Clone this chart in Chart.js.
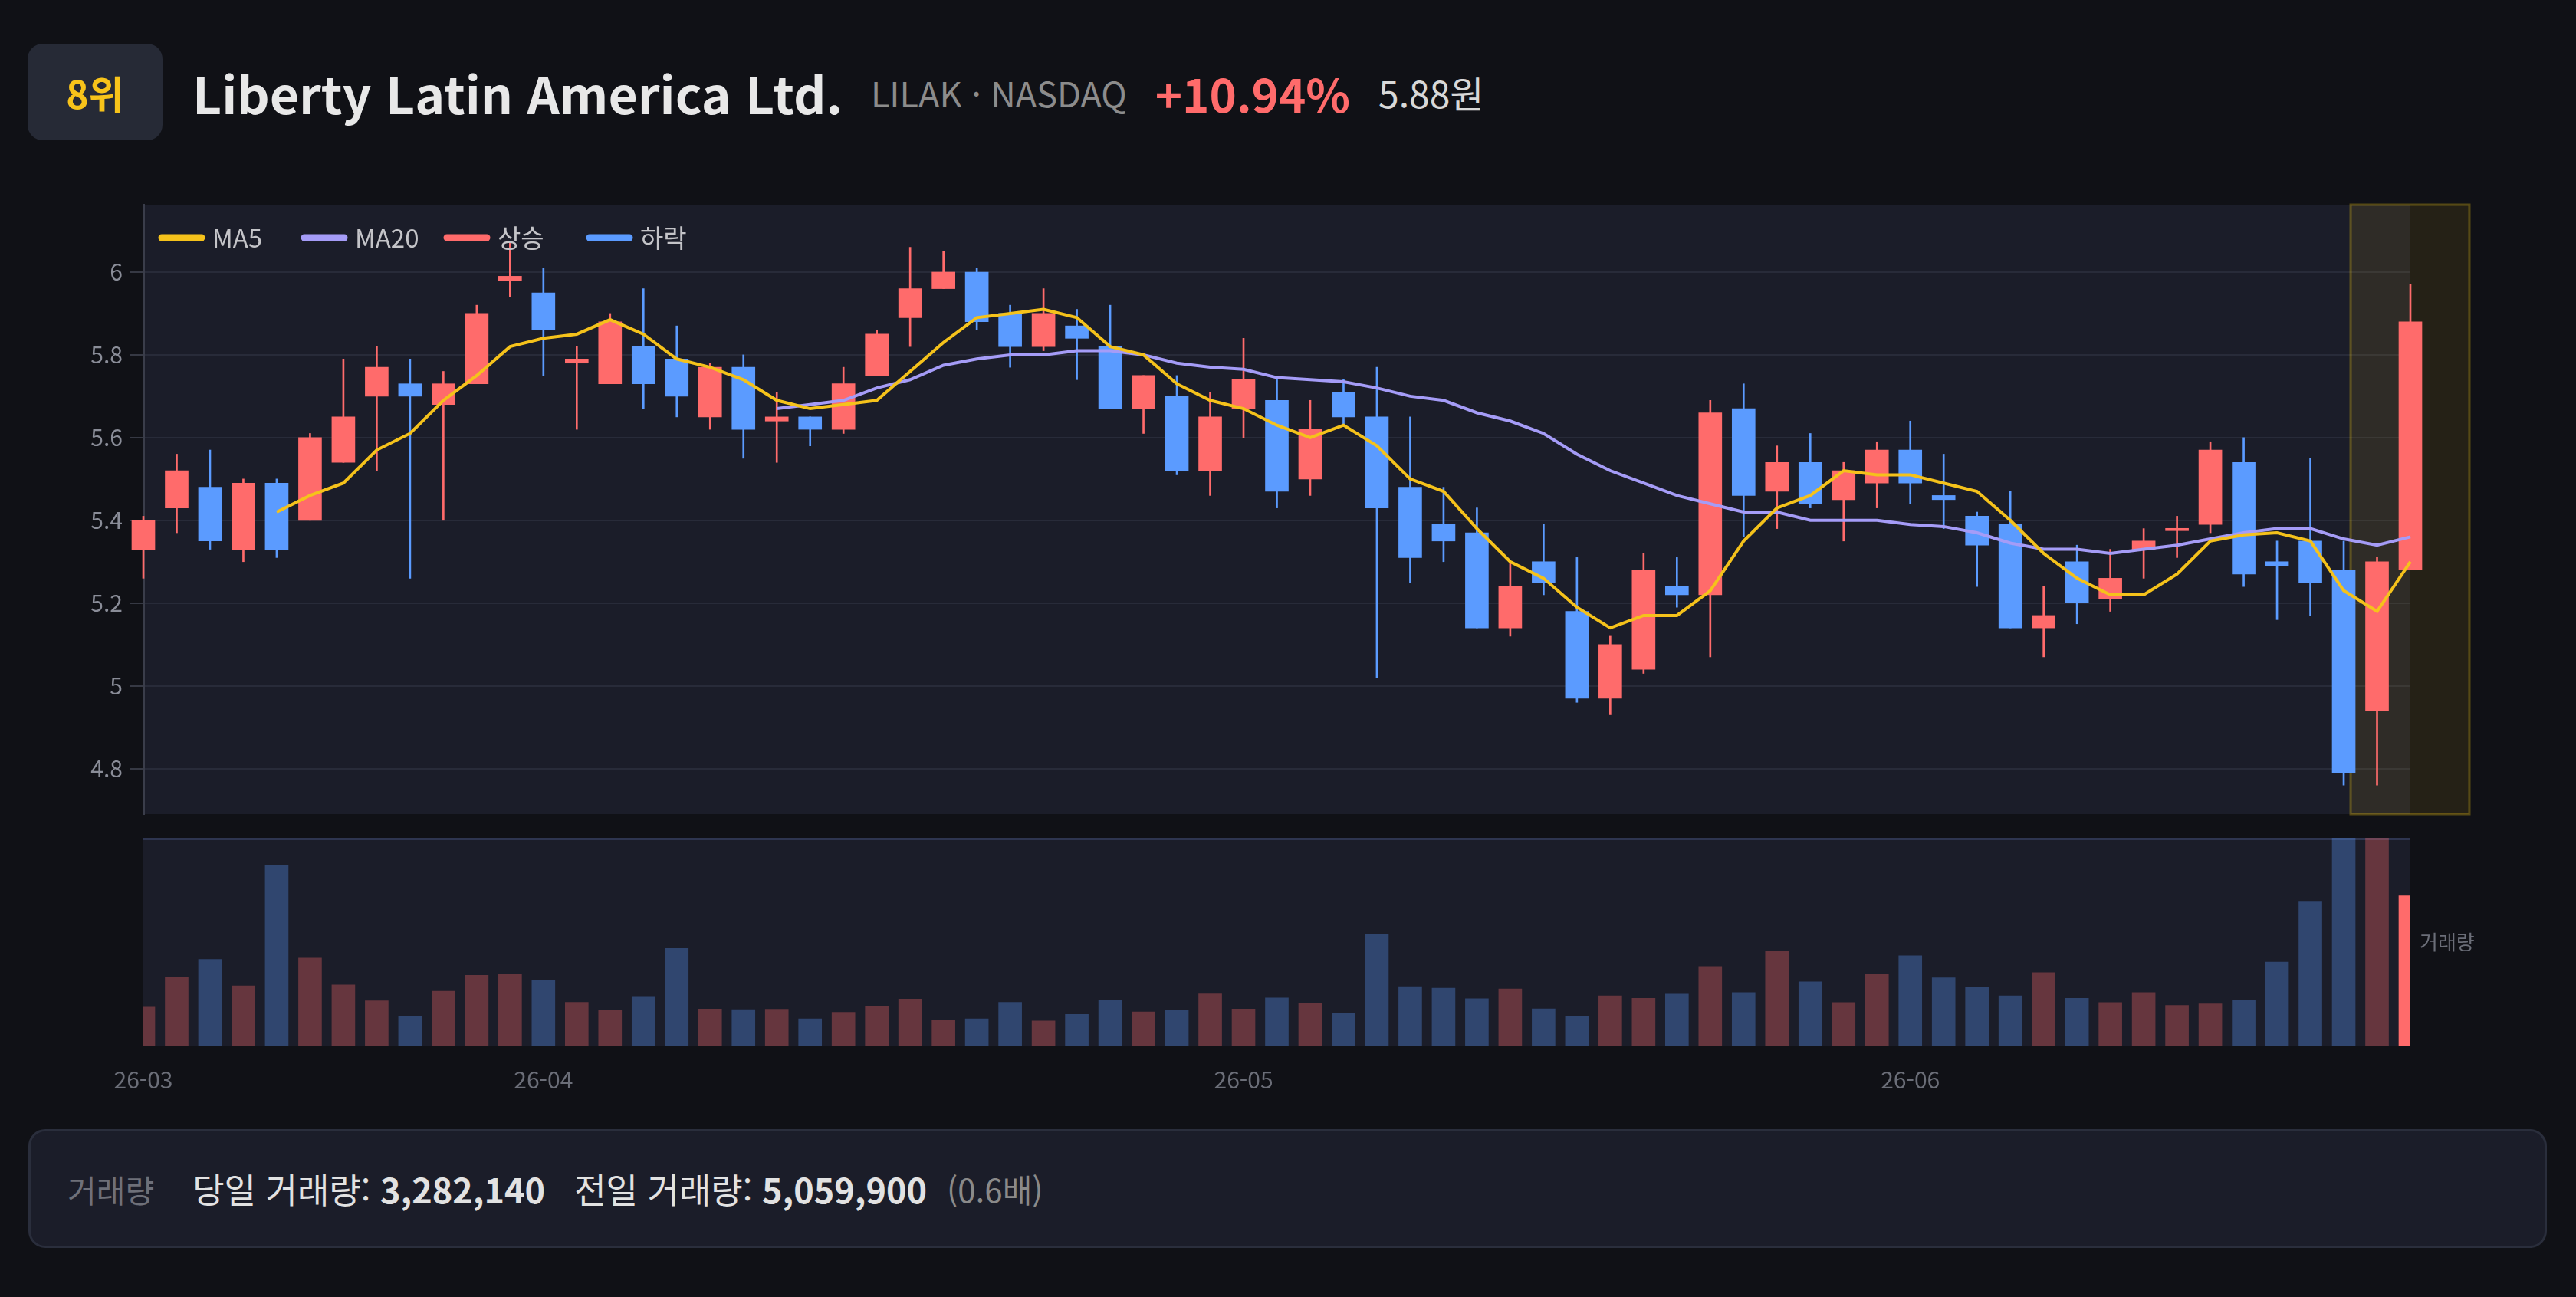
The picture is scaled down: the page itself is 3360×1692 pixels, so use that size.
<!DOCTYPE html>
<html lang="ko">
<head>
<meta charset="utf-8">
<title>Liberty Latin America Ltd.</title>
<script src="https://cdn.jsdelivr.net/npm/chart.js@4.4.1/dist/chart.umd.min.js"></script>
<style>
  html, body { margin: 0; padding: 0; background: #101116; }
  body { width: 3360px; height: 1692px; position: relative; overflow: hidden;
         font-family: "Noto Sans CJK KR", "Noto Sans", sans-serif; }
  .badge { position: absolute; left: 36px; top: 57px; width: 176px; height: 126px; border-radius: 20px;
           background: #262a36; color: #f7c31a; font-weight: 700; font-size: 50px;
           display: flex; align-items: center; justify-content: center; }
  .head { position: absolute; left: 251px; top: 70px; height: 100px; display: flex; align-items: center;
          gap: 37px; white-space: nowrap; }
  .title { color: #e8e8e8; font-weight: 700; font-size: 66px; }
  .ticker { color: #8c8c8c; font-size: 45px; }
  .chg { color: #ff6b6b; font-weight: 700; font-size: 60px; }
  .price { color: #d8d8d8; font-size: 48px; }
  #priceWrap { position: absolute; left: 0; top: 237px; width: 3360px; height: 853px; }
  #volWrap { position: absolute; left: 0; top: 1070px; width: 3360px; height: 370px; }
  .foot { position: absolute; left: 37px; top: 1473px; width: 3285px; height: 155px; box-sizing: border-box;
          border: 3px solid #2a2e3c; border-radius: 22px; background: #1b1d29;
          display: flex; align-items: center; padding-left: 48px; white-space: nowrap; font-size: 45px; }
  .foot .lab { color: #6e7079; font-size: 41px; margin-right: 50px; }
  .foot .item { color: #e2e2e2; margin-right: 38px; }
  .foot .item b { font-weight: 700; }
  .foot .ratio { color: #8a8a8a; font-size: 42px; margin-left: -12px; }
</style>
</head>
<body>
<div class="badge">8위</div>
<div class="head">
  <span class="title">Liberty Latin America Ltd.</span>
  <span class="ticker">LILAK · NASDAQ</span>
  <span class="chg" id="chg"></span>
  <span class="price" id="price"></span>
</div>
<div id="priceWrap"><canvas id="priceChart"></canvas></div>
<div id="volWrap"><canvas id="volChart"></canvas></div>
<div class="foot">
  <span class="lab">거래량</span>
  <span class="item">당일 거래량: <b id="volToday"></b></span>
  <span class="item">전일 거래량: <b id="volPrev"></b></span>
  <span class="ratio" id="volRatio"></span>
</div>
<script>
// trading days
const dates = [
  '2026-03-16','2026-03-17','2026-03-18','2026-03-19','2026-03-20','2026-03-23','2026-03-24','2026-03-25',
  '2026-03-26','2026-03-27','2026-03-30','2026-03-31',
  '2026-04-01','2026-04-02','2026-04-06','2026-04-07','2026-04-08','2026-04-09','2026-04-10','2026-04-13',
  '2026-04-14','2026-04-15','2026-04-16','2026-04-17','2026-04-20','2026-04-21','2026-04-22','2026-04-23',
  '2026-04-24','2026-04-27','2026-04-28','2026-04-29','2026-04-30',
  '2026-05-01','2026-05-04','2026-05-05','2026-05-06','2026-05-07','2026-05-08','2026-05-11','2026-05-12',
  '2026-05-13','2026-05-14','2026-05-15','2026-05-18','2026-05-19','2026-05-20','2026-05-21','2026-05-22',
  '2026-05-26','2026-05-27','2026-05-28','2026-05-29',
  '2026-06-01','2026-06-02','2026-06-03','2026-06-04','2026-06-05','2026-06-08','2026-06-09','2026-06-10',
  '2026-06-11','2026-06-12','2026-06-15','2026-06-16','2026-06-17','2026-06-18','2026-06-22','2026-06-23'
];

const opens = [
  5.33, 5.43, 5.48, 5.33, 5.49, 5.40, 5.54, 5.70, 5.73, 5.68,
  5.73, 5.98, 5.95, 5.78, 5.73, 5.82, 5.79, 5.65, 5.77, 5.64,
  5.65, 5.62, 5.75, 5.89, 5.96, 6.00, 5.90, 5.82, 5.87, 5.82,
  5.67, 5.70, 5.52, 5.67, 5.69, 5.50, 5.71, 5.65, 5.48, 5.39,
  5.37, 5.14, 5.30, 5.18, 4.97, 5.04, 5.24, 5.22, 5.67, 5.47,
  5.54, 5.45, 5.49, 5.57, 5.46, 5.41, 5.39, 5.14, 5.30, 5.21,
  5.33, 5.375, 5.39, 5.54, 5.30, 5.35, 5.28, 4.94, 5.28
];
const highs = [
  5.41, 5.56, 5.57, 5.50, 5.50, 5.61, 5.79, 5.82, 5.79, 5.76,
  5.92, 6.07, 6.01, 5.82, 5.90, 5.96, 5.87, 5.78, 5.80, 5.71,
  5.65, 5.77, 5.86, 6.06, 6.05, 6.01, 5.92, 5.96, 5.91, 5.92,
  5.75, 5.75, 5.71, 5.84, 5.74, 5.69, 5.74, 5.77, 5.65, 5.48,
  5.43, 5.30, 5.39, 5.31, 5.12, 5.32, 5.31, 5.69, 5.73, 5.58,
  5.61, 5.54, 5.59, 5.64, 5.56, 5.42, 5.47, 5.24, 5.34, 5.33,
  5.38, 5.41, 5.59, 5.60, 5.35, 5.55, 5.35, 5.31, 5.97
];
const lows = [
  5.26, 5.37, 5.33, 5.30, 5.31, 5.40, 5.54, 5.52, 5.26, 5.40,
  5.73, 5.94, 5.75, 5.62, 5.73, 5.67, 5.65, 5.62, 5.55, 5.54,
  5.58, 5.61, 5.75, 5.82, 5.96, 5.86, 5.77, 5.81, 5.74, 5.67,
  5.61, 5.51, 5.46, 5.60, 5.43, 5.46, 5.63, 5.02, 5.25, 5.30,
  5.14, 5.12, 5.22, 4.96, 4.93, 5.03, 5.19, 5.07, 5.36, 5.38,
  5.43, 5.35, 5.43, 5.44, 5.38, 5.24, 5.14, 5.07, 5.15, 5.18,
  5.26, 5.31, 5.37, 5.24, 5.16, 5.17, 4.76, 4.76, 5.28
];
const closes = [
  5.40, 5.52, 5.35, 5.49, 5.33, 5.60, 5.65, 5.77, 5.70, 5.73,
  5.90, 5.99, 5.86, 5.79, 5.88, 5.73, 5.70, 5.77, 5.62, 5.65,
  5.62, 5.73, 5.85, 5.96, 6.00, 5.88, 5.82, 5.90, 5.84, 5.67,
  5.75, 5.52, 5.65, 5.74, 5.47, 5.62, 5.65, 5.43, 5.31, 5.35,
  5.14, 5.24, 5.25, 4.97, 5.10, 5.28, 5.22, 5.66, 5.46, 5.54,
  5.44, 5.52, 5.57, 5.49, 5.45, 5.34, 5.14, 5.17, 5.20, 5.26,
  5.35, 5.38, 5.57, 5.27, 5.29, 5.25, 4.79, 5.30, 5.88
];

const ma5 = [
  null, null, null, null,
  5.42, 5.46, 5.49, 5.57, 5.61, 5.69, 5.75, 5.82, 5.84, 5.85,
  5.885, 5.85, 5.79, 5.77, 5.74, 5.69, 5.67, 5.68, 5.69, 5.76,
  5.83, 5.89, 5.90, 5.91, 5.89, 5.82, 5.80, 5.73, 5.69, 5.67,
  5.63, 5.60, 5.63, 5.58, 5.50, 5.47, 5.38, 5.30, 5.26, 5.19,
  5.14, 5.17, 5.17, 5.23, 5.35, 5.43, 5.46, 5.52, 5.51, 5.51,
  5.49, 5.47, 5.40, 5.32, 5.26, 5.22, 5.22, 5.27, 5.35, 5.365,
  5.37, 5.35, 5.23, 5.18, 5.30
];
const ma20 = [
  null, null, null, null, null, null, null, null, null, null,
  null, null, null, null, null, null, null, null, null,
  5.67, 5.68, 5.69, 5.72, 5.74, 5.775, 5.79, 5.80, 5.80, 5.81,
  5.81, 5.80, 5.78, 5.77, 5.765, 5.745, 5.74, 5.735, 5.72, 5.70,
  5.69, 5.66, 5.64, 5.61, 5.56, 5.52, 5.49, 5.46, 5.44, 5.42,
  5.42, 5.40, 5.40, 5.40, 5.39, 5.385, 5.37, 5.345, 5.33, 5.33,
  5.32, 5.33, 5.34, 5.355, 5.37, 5.38, 5.38, 5.355, 5.34, 5.36
];

const volumes = [
  853000, 1504000, 1897000, 1319000, 3945000, 1925000, 1341000, 993000, 657000, 1201000,
  1549000, 1577000, 1431000, 960000, 797000, 1089000, 2132000, 814000, 802000, 808000,
  600000, 741000, 881000, 1032000, 567000, 600000, 960000, 555000, 696000, 1010000,
  752000, 786000, 1145000, 814000, 1055000, 937000, 724000, 2446000, 1302000, 1268000,
  1038000, 1251000, 819000, 645000, 1100000, 1049000, 1139000, 1739000, 1173000, 2076000,
  1408000, 954000, 1565000, 1975000, 1493000, 1291000, 1100000, 1605000, 1049000, 954000,
  1173000, 892000, 926000, 1010000, 1835000, 3148000, 5600000, 5059900, 3282140
];

const FONT = '"Noto Sans CJK KR", "Noto Sans", sans-serif';
const UP = '#ff6b6b';
const DOWN = '#5b9bff';
const UP_VOL = 'rgba(255,107,107,0.33)';
const DOWN_VOL = 'rgba(91,155,255,0.33)';
const PANEL = '#1b1d29';
const last = dates.length - 1;

Chart.defaults.font.family = FONT;

const isUp = closes.map((c, i) => c >= opens[i]);
const candleColors = isUp.map(u => (u ? UP : DOWN));
const volColors = isUp.map((u, i) => (i === last ? UP : (u ? UP_VOL : DOWN_VOL)));

const legendItems = [
  { label: 'MA5', color: '#f5c21b' },
  { label: 'MA20', color: '#a59cf7' },
  { label: '상승', color: UP },
  { label: '하락', color: DOWN }
];

// header / footer text from the data
const change = (closes[last] / closes[last - 1] - 1) * 100;
document.getElementById('chg').textContent = (change >= 0 ? '+' : '') + change.toFixed(2) + '%';
document.getElementById('price').textContent = closes[last].toFixed(2) + '원';
document.getElementById('volToday').textContent = volumes[last].toLocaleString('en-US');
document.getElementById('volPrev').textContent = volumes[last - 1].toLocaleString('en-US');
document.getElementById('volRatio').textContent = '(' + (volumes[last] / volumes[last - 1]).toFixed(1) + '배)';

function monthLabel(i) {
  const m = dates[i].slice(0, 7);
  if (i === 0 || m !== dates[i - 1].slice(0, 7)) {
    return dates[i].slice(2, 7);
  }
  return '';
}

const panelBg = {
  id: 'panelBg',
  beforeDraw(chart) {
    const { ctx, chartArea: a } = chart;
    ctx.save();
    ctx.fillStyle = PANEL;
    ctx.fillRect(a.left, a.top, a.right - a.left, a.bottom - a.top);
    ctx.restore();
  }
};

const highlight = {
  id: 'highlight',
  beforeDatasetsDraw(chart) {
    const { ctx, chartArea: a } = chart;
    const x = chart.scales.x.getPixelForValue(last);
    ctx.save();
    ctx.fillStyle = 'rgba(250,204,21,0.09)';
    ctx.fillRect(x - 78, a.top, 155, a.bottom - a.top);
    ctx.strokeStyle = 'rgba(250,204,21,0.3)';
    ctx.lineWidth = 3;
    ctx.strokeRect(x - 78, a.top, 155, a.bottom - a.top);
    ctx.restore();
  }
};

const candleLegend = {
  id: 'candleLegend',
  afterDatasetsDraw(chart) {
    const { ctx, chartArea: a } = chart;
    ctx.save();
    ctx.font = '33px ' + FONT;
    ctx.textBaseline = 'middle';
    legendItems.forEach((item, k) => {
      const x = a.left + 19 + k * 186;
      const y = a.top + 43;
      ctx.strokeStyle = item.color;
      ctx.lineWidth = 9;
      ctx.lineCap = 'round';
      ctx.beginPath();
      ctx.moveTo(x + 5, y);
      ctx.lineTo(x + 57, y);
      ctx.stroke();
      ctx.fillStyle = '#c4c4c8';
      ctx.fillText(item.label, x + 71, y);
    });
    ctx.restore();
  }
};

const volDecor = {
  id: 'volDecor',
  beforeDatasetsDraw(chart) {
    const { ctx, chartArea: a } = chart;
    ctx.save();
    ctx.fillStyle = '#2e3550';
    ctx.fillRect(a.left, a.top, a.right - a.left, 3);
    ctx.restore();
  },
  afterDraw(chart) {
    const { ctx, chartArea: a } = chart;
    ctx.save();
    ctx.font = '26px ' + FONT;
    ctx.fillStyle = '#6b6e78';
    ctx.textBaseline = 'middle';
    ctx.fillText('거래량', a.right + 12, (a.top + a.bottom) / 2);
    ctx.restore();
  }
};

new Chart(document.getElementById('priceChart'), {
  type: 'bar',
  data: {
    labels: dates,
    datasets: [
      { type: 'line', label: 'MA5', data: ma5, borderColor: legendItems[0].color, borderWidth: 4,
        pointRadius: 0, tension: 0, order: 0 },
      { type: 'line', label: 'MA20', data: ma20, borderColor: legendItems[1].color, borderWidth: 4,
        pointRadius: 0, tension: 0, order: 1 },
      { label: 'body', data: dates.map((d, i) => [Math.min(opens[i], closes[i]), Math.max(opens[i], closes[i])]),
        backgroundColor: candleColors, barThickness: 30, minBarLength: 3, grouped: false, order: 2, clip: false },
      { label: 'wick', data: dates.map((d, i) => [lows[i], highs[i]]),
        backgroundColor: candleColors, barThickness: 2, grouped: false, order: 3, clip: false }
    ]
  },
  options: {
    responsive: true,
    maintainAspectRatio: false,
    animation: false,
    layout: { padding: { top: 30, bottom: 20, left: 0, right: 216 } },
    plugins: { legend: { display: false }, tooltip: { enabled: false } },
    scales: {
      x: { display: false, offset: false },
      y: {
        min: 4.69,
        max: 6.163,
        afterFit: s => { s.width = 187; },
        border: { color: '#3a3d4a', width: 3 },
        grid: { color: '#282b39', lineWidth: 2, tickLength: 17, tickColor: '#363944' },
        ticks: { stepSize: 0.2, includeBounds: false, color: '#8a8d98', font: { size: 30 }, padding: 10,
                 callback: v => String(Number(v.toFixed(1))) }
      }
    }
  },
  plugins: [panelBg, highlight, candleLegend]
});

new Chart(document.getElementById('volChart'), {
  type: 'bar',
  data: {
    labels: dates,
    datasets: [{ label: '거래량', data: volumes, backgroundColor: volColors, barThickness: 30 }]
  },
  options: {
    responsive: true,
    maintainAspectRatio: false,
    animation: false,
    layout: { padding: { top: 23, bottom: 0, left: 187, right: 216 } },
    plugins: { legend: { display: false }, tooltip: { enabled: false } },
    scales: {
      x: {
        offset: false,
        grid: { display: false },
        border: { display: false },
        afterFit: s => { s.height = 75; },
        ticks: { autoSkip: false, maxRotation: 0, minRotation: 0, padding: 18, color: '#6b6e78',
                 font: { size: 30 }, callback: (v, i) => monthLabel(i) }
      },
      y: { display: false, min: 0, max: 4545000 }
    }
  },
  plugins: [panelBg, volDecor]
});
</script>
</body>
</html>
